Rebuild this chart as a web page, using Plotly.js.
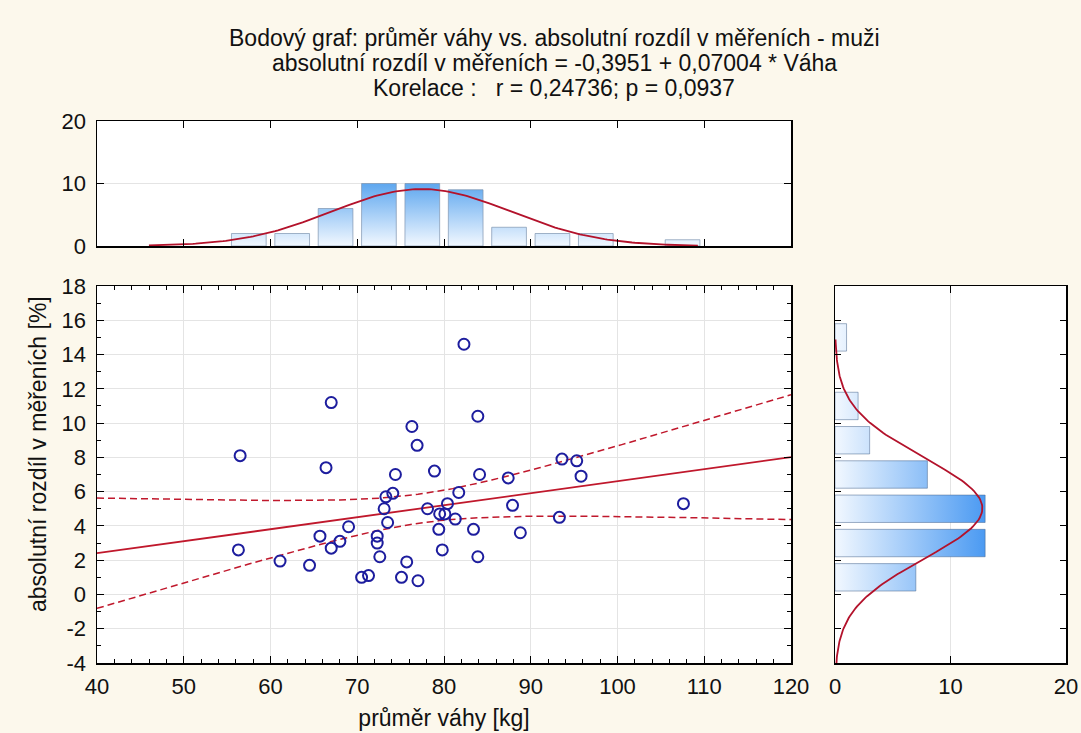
<!DOCTYPE html>
<html>
<head>
<meta charset="utf-8">
<script src="https://cdn.plot.ly/plotly-3.0.1.min.js"></script>
<style>
  html, body { margin: 0; padding: 0; background: #fcf8ec; }
  #chart { width: 1081px; height: 733px; }
</style>
</head>
<body>
<div id="chart"></div>
<script>
// Average weight of each man [kg] and absolute difference between measurements [%]
const weightKg = [56.5, 56.3, 61.1, 64.5, 65.7, 66.4, 67.0, 67.0, 68.0, 69.0,
  70.5, 71.3, 72.3, 72.3, 72.6, 73.1, 73.3, 73.5, 74.1, 74.4,
  75.1, 75.7, 76.3, 76.9, 77.0, 78.1, 78.9, 79.4, 79.5, 80.1,
  79.8, 80.4, 81.3, 81.7, 82.3, 83.4, 83.9, 83.9, 84.1, 87.4,
  87.9, 88.8, 93.3, 93.6, 95.3, 95.8, 107.6];
const absDiff = [8.1, 2.6, 1.95, 1.7, 3.4, 7.4, 11.2, 2.7, 3.1, 3.95,
  1.0, 1.1, 3.4, 3.0, 2.2, 5.0, 5.7, 4.2, 5.9, 7.0,
  1.0, 1.9, 9.8, 8.7, 0.8, 5.0, 7.2, 3.8, 4.7, 4.7,
  2.6, 5.3, 4.4, 5.95, 14.6, 3.8, 2.2, 10.4, 7.0, 6.8,
  5.2, 3.6, 4.5, 7.9, 7.8, 6.9, 5.3];

// Histogram of weight: lower bin edges (width 5 kg) and counts
const weightBinLow = [55, 60, 65, 70, 75, 80, 85, 90, 95, 100, 105];
const weightCounts = [2, 2, 6, 10, 10, 9, 3, 2, 2, 0, 1];
const weightBinWidth = 5;

// Histogram of the difference: lower bin edges (width 2 %) and counts
const diffBinLow = [0, 2, 4, 6, 8, 10, 12, 14];
const diffCounts = [7, 13, 13, 8, 3, 2, 0, 1];
const diffBinWidth = 2;

// Tick values of the difference axis (labels use a plain hyphen for negatives)
const diffTicks = [-4, -2, 0, 2, 4, 6, 8, 10, 12, 14, 16, 18];

// Regression fit quoted in the heading
const intercept = -0.3951;
const slope = 0.07004;
const corrR = '0,24736';
const corrP = '0,0937';
const tCrit = 2.0141; // t(0.975, df = 45)

const titleLines = [
  'Bodový graf: průměr váhy vs. absolutní rozdíl v měřeních - muži',
  'absolutní rozdíl v měřeních = -0,3951 + 0,07004 * Váha',
  'Korelace :   r = ' + corrR + '; p = ' + corrP
];

// ---- statistics ----
const n = weightKg.length;
const mean = a => a.reduce((s, v) => s + v, 0) / a.length;
const sd = a => { const m = mean(a); return Math.sqrt(a.reduce((s, v) => s + (v - m) ** 2, 0) / (a.length - 1)); };
const mx = mean(weightKg), my = mean(absDiff);
const sx = sd(weightKg), sy = sd(absDiff);
const sxx = weightKg.reduce((s, v) => s + (v - mx) ** 2, 0);
const sse = weightKg.reduce((s, v, i) => s + (absDiff[i] - (intercept + slope * v)) ** 2, 0);
const se = Math.sqrt(sse / (n - 2));

function linspace(a, b, k) { const out = []; for (let i = 0; i <= k; i++) out.push(a + (b - a) * i / k); return out; }
const normPdf = (v, m, s) => Math.exp(-0.5 * ((v - m) / s) ** 2) / (s * Math.sqrt(2 * Math.PI));

// regression line with 95% confidence band
const gx = linspace(40, 120, 160);
const fit = gx.map(v => intercept + slope * v);
const half = gx.map(v => tCrit * se * Math.sqrt(1 / n + (v - mx) ** 2 / sxx));
const upper = fit.map((v, i) => v + half[i]);
const lower = fit.map((v, i) => v - half[i]);

// expected normal counts for the marginal histograms
const nx = linspace(mx - 3.05 * sx, mx + 3.1 * sx, 200);
const ny = nx.map(v => n * weightBinWidth * normPdf(v, mx, sx));
const dy = linspace(my - 3.4 * sy, my + 3.35 * sy, 200);
const dx = dy.map(v => n * diffBinWidth * normPdf(v, my, sy));

// bar outlines as closed polygons (so they can carry a gradient fill)
function barPolygons(lows, counts, width, frac) {
  const pos = [], len = [];
  lows.forEach((lo, i) => {
    if (!counts[i]) return;
    const a = lo + width * (1 - frac) / 2, b = lo + width * (1 + frac) / 2;
    pos.push(a, a, b, b, a, null);
    len.push(0, counts[i], counts[i], 0, 0, null);
  });
  return { pos, len };
}
const topBars = barPolygons(weightBinLow, weightCounts, weightBinWidth, 0.8);
const sideBars = barPolygons(diffBinLow, diffCounts, diffBinWidth, 0.8);

const red = '#c0182c';
const curveRed = '#b3122b';

const traces = [
  // top marginal histogram
  {
    x: topBars.pos, y: topBars.len, xaxis: 'x2', yaxis: 'y2',
    type: 'scatter', mode: 'lines', fill: 'toself', connectgaps: false,
    line: { color: 'rgba(125,148,175,0.7)', width: 1 },
    fillgradient: { type: 'vertical', start: 0, stop: 10,
      colorscale: [[0, '#f2f8ff'], [1, '#5ea7ef']] },
    hoverinfo: 'skip'
  },
  {
    x: nx, y: ny, xaxis: 'x2', yaxis: 'y2', type: 'scatter', mode: 'lines',
    line: { color: curveRed, width: 1.8 }, hoverinfo: 'skip'
  },
  // side marginal histogram
  {
    x: sideBars.len, y: sideBars.pos, xaxis: 'x3', yaxis: 'y3',
    type: 'scatter', mode: 'lines', fill: 'toself', connectgaps: false,
    line: { color: 'rgba(70,100,140,0.5)', width: 1 },
    fillgradient: { type: 'horizontal', start: 0, stop: 13,
      colorscale: [[0, '#f2f8ff'], [1, '#4b9af2']] },
    hoverinfo: 'skip'
  },
  {
    x: dx, y: dy, xaxis: 'x3', yaxis: 'y3', type: 'scatter', mode: 'lines',
    line: { color: curveRed, width: 1.8 }, hoverinfo: 'skip'
  },
  // regression line and confidence band
  { x: gx, y: upper, type: 'scatter', mode: 'lines', line: { color: red, width: 1.5, dash: '7px,4px' } },
  { x: gx, y: lower, type: 'scatter', mode: 'lines', line: { color: red, width: 1.5, dash: '7px,4px' } },
  { x: gx, y: fit, type: 'scatter', mode: 'lines', line: { color: red, width: 1.8 } },
  // observations
  {
    x: weightKg, y: absDiff, type: 'scatter', mode: 'markers',
    marker: { symbol: 'circle-open', size: 11, color: '#1d1d9e', line: { width: 2, color: '#1d1d9e' } }
  }
];

const W = 1081, H = 733;
const px = v => v / W, py = v => 1 - v / H;
const mainX = [px(97), px(791)];
const mainY = [py(663), py(286)];
const tickFont = { size: 22, color: '#111' };

const common = {
  ticks: 'inside', tickcolor: '#000', tickwidth: 1, showline: true,
  linecolor: '#000', linewidth: 1.5, mirror: 'ticks', zeroline: false,
  gridcolor: '#e4e4e4', tickfont: tickFont, fixedrange: true
};

const titleY = [38, 63, 88];

const layout = {
  width: W, height: H,
  margin: { l: 0, r: 0, t: 0, b: 0 },
  paper_bgcolor: '#fcf8ec', plot_bgcolor: '#ffffff',
  showlegend: false,
  font: { family: 'Liberation Sans, Arial, sans-serif', size: 21, color: '#111' },
  xaxis: Object.assign({}, common, {
    domain: mainX, anchor: 'y', range: [40, 120], dtick: 10, tick0: 40,
    ticklen: 7, showgrid: true, ticklabelstandoff: 3,
    minor: { dtick: 2, ticks: 'inside', ticklen: 4, tickcolor: '#000', showgrid: false },
    title: { text: 'průměr váhy [kg]', font: { size: 23 }, standoff: 12 }
  }),
  yaxis: Object.assign({}, common, {
    domain: mainY, anchor: 'x', range: [-4, 18],
    tickmode: 'array', tickvals: diffTicks, ticktext: diffTicks.map(String),
    ticklen: 7, showgrid: true, ticklabelstandoff: 5,
    minor: { dtick: 1, tick0: 0, ticks: 'inside', ticklen: 4, tickcolor: '#000', showgrid: false }
  }),
  xaxis2: Object.assign({}, common, {
    domain: mainX, anchor: 'y2', range: [40, 120], dtick: 10, tick0: 40,
    ticklen: 7, showgrid: false, showticklabels: false
  }),
  yaxis2: Object.assign({}, common, {
    domain: [py(246), py(121)], anchor: 'x2', range: [0, 20], dtick: 10,
    ticklen: 7, showgrid: true, ticklabelstandoff: 5
  }),
  xaxis3: Object.assign({}, common, {
    domain: [px(835), px(1066)], anchor: 'y3', range: [0, 20], dtick: 10,
    ticklen: 7, showgrid: true, ticklabelstandoff: 3
  }),
  yaxis3: Object.assign({}, common, {
    domain: mainY, anchor: 'x3', range: [-4, 18], dtick: 2, tick0: 0,
    ticklen: 6, showgrid: false, showticklabels: false
  }),
  annotations: titleLines.map((t, i) => ({
    text: t, xref: 'paper', yref: 'paper', x: px(554), y: py(titleY[i]),
    xanchor: 'center', yanchor: 'middle', showarrow: false,
    font: { size: 23, color: '#111' }
  })).concat([{
    text: 'absolutní rozdíl v měřeních [%]', textangle: -90,
    xref: 'paper', yref: 'paper', x: px(38), y: py(454),
    xanchor: 'center', yanchor: 'middle', showarrow: false,
    font: { size: 23, color: '#111' }
  }])
};

Plotly.newPlot('chart', traces, layout, { displayModeBar: false, staticPlot: true });
</script>
</body>
</html>
